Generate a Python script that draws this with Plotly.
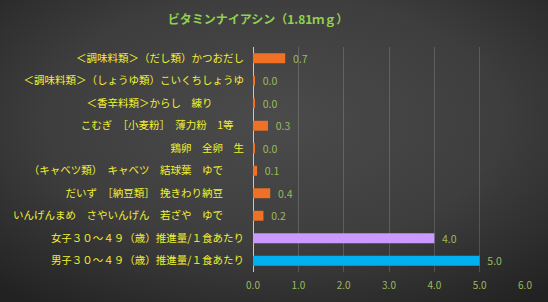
import plotly.graph_objects as go
import base64

# data (bottom to top)
categories = [
    "男子３０～４９（歳）推進量/１食あたり",
    "女子３０～４９（歳）推進量/１食あたり",
    "いんげんまめ　さやいんげん　若ざや　ゆで　　",
    "だいず　［納豆類］　挽きわり納豆　　",
    "（キャベツ類）　キャベツ　結球葉　ゆで　　",
    "鶏卵　全卵　生",
    "こむぎ　［小麦粉］　薄力粉　1等　",
    "＜香辛料類＞からし　練り　　　",
    "＜調味料類＞（しょうゆ類）こいくちしょうゆ",
    "＜調味料類＞（だし類）かつおだし",
]
values = [5.0, 4.0, 0.23, 0.38, 0.09, 0.03, 0.33, 0.03, 0.03, 0.71]
labels = ["5.0", "4.0", "0.2", "0.4", "0.1", "0.0", "0.3", "0.0", "0.0", "0.7"]
colors = ["#00b0f0", "#cc99ff"] + ["#f07125"] * 8
xticks = [0, 1, 2, 3, 4, 5, 6]
xticklabels = ["0.0", "1.0", "2.0", "3.0", "4.0", "5.0", "6.0"]

W, H = 548, 302
L, R, T, B = 253, 23, 47, 30
pw, ph = W - L - R, H - T - B

svg = f'''<svg xmlns="http://www.w3.org/2000/svg" width="{W}" height="{H}" viewBox="0 0 {W} {H}" preserveAspectRatio="none">
<defs><radialGradient id="g" cx="0.5" cy="0.4" r="0.75" gradientUnits="objectBoundingBox">
<stop offset="0" stop-color="#4b4b4b"/><stop offset="0.55" stop-color="#3e3e3e"/><stop offset="1" stop-color="#222222"/>
</radialGradient></defs><rect width="{W}" height="{H}" fill="url(#g)"/></svg>'''
src = "data:image/svg+xml;base64," + base64.b64encode(svg.encode()).decode()

fig = go.Figure()
fig.add_trace(go.Bar(
    y=categories, x=values, orientation="h",
    marker=dict(color=colors, line=dict(width=0)),
    text=["\u00a0\u00a0" + t for t in labels], textposition="outside",
    cliponaxis=False, constraintext="none",
    textfont=dict(color="#9bbb59", size=10.5, family="Noto Sans CJK JP"),
    width=0.44,
))
fig.update_layout(
    width=W, height=H,
    margin=dict(l=L, r=R, t=T, b=B, autoexpand=False),
    paper_bgcolor="#333333", plot_bgcolor="rgba(0,0,0,0)",
    title=dict(text="<b>ビタミンナイアシン（1.81ｍｇ）</b>", x=258 / W, xref="container", xanchor="center",
               y=1 - 20 / H, yanchor="middle",
               font=dict(color="#92d050", size=12, family="Noto Sans CJK JP")),
    showlegend=False,
    images=[dict(source=src, xref="paper", yref="paper",
                 x=-L / pw, y=1 + T / ph, sizex=W / pw, sizey=H / ph,
                 sizing="stretch", layer="below", xanchor="left", yanchor="top")],
    xaxis=dict(range=[0, 6], tickvals=xticks, ticktext=xticklabels,
               showgrid=True, gridcolor="rgba(255,255,255,0.16)", gridwidth=1,
               zeroline=True, zerolinecolor="#c8c8c8", zerolinewidth=1,
               showline=False, ticks="", ticklabelstandoff=6, automargin=False,
               tickfont=dict(color="#9bbb59", size=10, family="Noto Sans CJK JP")),
    yaxis=dict(categoryorder="array", categoryarray=categories,
               showgrid=False, ticks="", showline=False, automargin=False,
               tickfont=dict(color="#f0f030", size=10.5, family="Noto Sans CJK JP"),
               ticklabelstandoff=8),
    font=dict(family="Noto Sans CJK JP"),
)
fig.write_html("out.html")
